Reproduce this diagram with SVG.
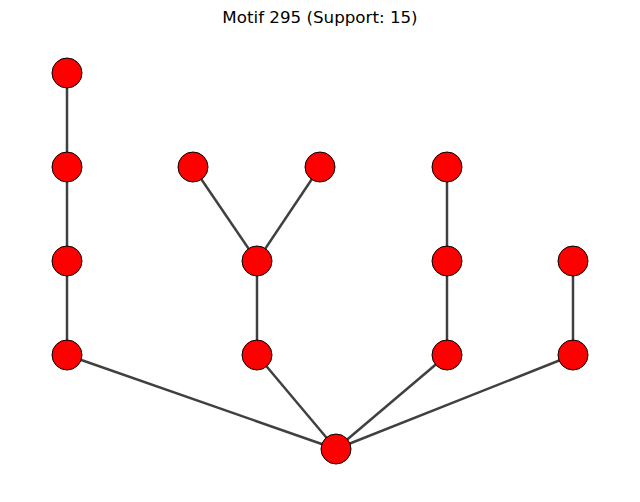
<svg xmlns="http://www.w3.org/2000/svg" width="640" height="502" viewBox="0 0 640 502">
<style>
.e{stroke:#404040;stroke-width:2.5;fill:none}
.n{fill:#ff0000;stroke:#000;stroke-width:1}
.t{font-family:"DejaVu Sans",sans-serif;font-size:16.7px;fill:#000}
</style>
<rect width="640" height="502" fill="#fff"/>
<text class="t" x="320" y="22.5" text-anchor="middle">Motif 295 (Support: 15)</text>
<g id="edges">
<line class="e" x1="67" y1="73" x2="67" y2="167"/>
<line class="e" x1="67" y1="167" x2="67" y2="261"/>
<line class="e" x1="67" y1="261" x2="67" y2="355"/>
<line class="e" x1="67" y1="355" x2="336" y2="449"/>
<line class="e" x1="193" y1="167" x2="257" y2="261"/>
<line class="e" x1="320" y1="167" x2="257" y2="261"/>
<line class="e" x1="257" y1="261" x2="257" y2="355"/>
<line class="e" x1="257" y1="355" x2="336" y2="449"/>
<line class="e" x1="447" y1="167" x2="447" y2="261"/>
<line class="e" x1="447" y1="261" x2="447" y2="355"/>
<line class="e" x1="447" y1="355" x2="336" y2="449"/>
<line class="e" x1="573" y1="261" x2="573" y2="355"/>
<line class="e" x1="573" y1="355" x2="336" y2="449"/>
</g>
<g id="a1"><circle class="n" cx="67" cy="73" r="15"/></g>
<g id="a2"><circle class="n" cx="67" cy="167" r="15"/></g>
<g id="a3"><circle class="n" cx="67" cy="261" r="15"/></g>
<g id="a4"><circle class="n" cx="67" cy="355" r="15"/></g>
<g id="b1"><circle class="n" cx="193" cy="167" r="15"/></g>
<g id="b2"><circle class="n" cx="320" cy="167" r="15"/></g>
<g id="b3"><circle class="n" cx="257" cy="261" r="15"/></g>
<g id="b4"><circle class="n" cx="257" cy="355" r="15"/></g>
<g id="c1"><circle class="n" cx="447" cy="167" r="15"/></g>
<g id="c2"><circle class="n" cx="447" cy="261" r="15"/></g>
<g id="c3"><circle class="n" cx="447" cy="355" r="15"/></g>
<g id="d1"><circle class="n" cx="573" cy="261" r="15"/></g>
<g id="d2"><circle class="n" cx="573" cy="355" r="15"/></g>
<g id="root"><circle class="n" cx="336" cy="449" r="15"/></g>
</svg>
